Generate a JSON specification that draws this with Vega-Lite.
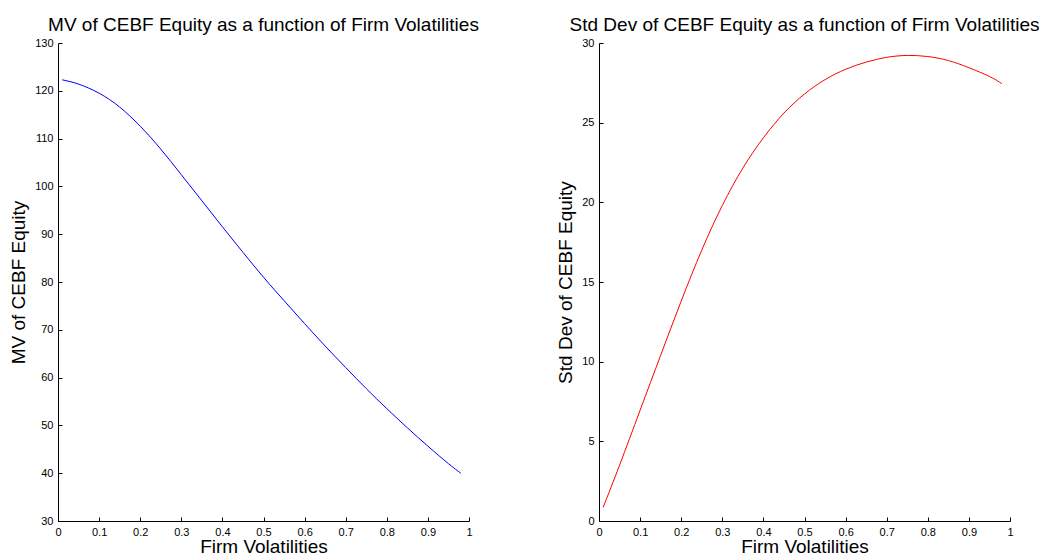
{
  "$schema": "https://vega.github.io/schema/vega-lite/v6.json",
  "background": "white",
  "padding": {"left": 9, "top": 16, "right": 5, "bottom": 0},
  "bounds": "flush",
  "spacing": 130,
  "datasets": {
    "mv": [
      {"vol": 0.01, "mv": 122.3},
      {"vol": 0.05, "mv": 121.4},
      {"vol": 0.10, "mv": 119.5},
      {"vol": 0.15, "mv": 116.6},
      {"vol": 0.20, "mv": 112.6},
      {"vol": 0.25, "mv": 107.8},
      {"vol": 0.30, "mv": 102.45},
      {"vol": 0.35, "mv": 97.0},
      {"vol": 0.40, "mv": 91.55},
      {"vol": 0.45, "mv": 86.2},
      {"vol": 0.50, "mv": 81.0},
      {"vol": 0.55, "mv": 76.1},
      {"vol": 0.60, "mv": 71.3},
      {"vol": 0.65, "mv": 66.6},
      {"vol": 0.70, "mv": 62.1},
      {"vol": 0.75, "mv": 57.7},
      {"vol": 0.80, "mv": 53.5},
      {"vol": 0.85, "mv": 49.5},
      {"vol": 0.90, "mv": 45.65},
      {"vol": 0.95, "mv": 42.0},
      {"vol": 0.98, "mv": 40.0}
    ],
    "sd": [
      {"vol": 0.01, "sd": 0.85},
      {"vol": 0.05, "sd": 3.5},
      {"vol": 0.10, "sd": 6.95},
      {"vol": 0.15, "sd": 10.4},
      {"vol": 0.20, "sd": 13.8},
      {"vol": 0.25, "sd": 17.0},
      {"vol": 0.30, "sd": 19.8},
      {"vol": 0.35, "sd": 22.15},
      {"vol": 0.40, "sd": 24.05},
      {"vol": 0.45, "sd": 25.6},
      {"vol": 0.50, "sd": 26.8},
      {"vol": 0.55, "sd": 27.7},
      {"vol": 0.60, "sd": 28.35},
      {"vol": 0.65, "sd": 28.8},
      {"vol": 0.70, "sd": 29.1},
      {"vol": 0.75, "sd": 29.22},
      {"vol": 0.80, "sd": 29.15},
      {"vol": 0.85, "sd": 28.9},
      {"vol": 0.90, "sd": 28.45},
      {"vol": 0.95, "sd": 27.9},
      {"vol": 0.98, "sd": 27.45}
    ]
  },
  "hconcat": [
    {
      "width": 411,
      "height": 478,
      "title": {"text": "MV of CEBF Equity as a function of Firm Volatilities", "frame": "group", "anchor": "middle", "baseline": "alphabetic", "offset": -13},
      "data": {"name": "mv"},
      "mark": {"type": "line", "color": "#0000FF", "strokeWidth": 1, "interpolate": "natural"},
      "encoding": {
        "x": {"field": "vol", "type": "quantitative", "title": "Firm Volatilities",
              "scale": {"domain": [0, 1], "nice": false, "zero": false},
              "axis": {"values": [0, 0.1, 0.2, 0.3, 0.4, 0.5, 0.6, 0.7, 0.8, 0.9, 1], "format": "~g"}},
        "y": {"field": "mv", "type": "quantitative", "title": "MV of CEBF Equity",
              "scale": {"domain": [30, 130], "nice": false, "zero": false},
              "axis": {"values": [30, 40, 50, 60, 70, 80, 90, 100, 110, 120, 130]}}
      }
    },
    {
      "width": 411,
      "height": 478,
      "title": {"text": "Std Dev of CEBF Equity as a function of Firm Volatilities", "frame": "group", "anchor": "middle", "baseline": "alphabetic", "offset": -13},
      "data": {"name": "sd"},
      "mark": {"type": "line", "color": "#FF0000", "strokeWidth": 1, "interpolate": "natural"},
      "encoding": {
        "x": {"field": "vol", "type": "quantitative", "title": "Firm Volatilities",
              "scale": {"domain": [0, 1], "nice": false, "zero": false},
              "axis": {"values": [0, 0.1, 0.2, 0.3, 0.4, 0.5, 0.6, 0.7, 0.8, 0.9, 1], "format": "~g"}},
        "y": {"field": "sd", "type": "quantitative", "title": "Std Dev of CEBF Equity",
              "scale": {"domain": [0, 30], "nice": false, "zero": false},
              "axis": {"values": [0, 5, 10, 15, 20, 25, 30]}}
      }
    }
  ],
  "config": {
    "view": {"stroke": null},
    "font": "Liberation Sans",
    "title": {"font": "Liberation Sans", "fontSize": 19, "fontWeight": "normal", "color": "#000000"},
    "axis": {
      "grid": false,
      "domainColor": "#000000",
      "domainWidth": 1,
      "tickColor": "#000000",
      "tickSize": -4,
      "labelPadding": 9,
      "labelFont": "Liberation Sans",
      "labelFontSize": 11,
      "labelColor": "#000000",
      "titleFont": "Liberation Sans",
      "titleFontSize": 19,
      "titleFontWeight": "normal",
      "titleColor": "#000000"
    },
    "axisX": {"titlePadding": 0, "labelFlush": false, "labelOverlap": false},
    "axisY": {"titlePadding": 6, "labelOverlap": false}
  }
}
